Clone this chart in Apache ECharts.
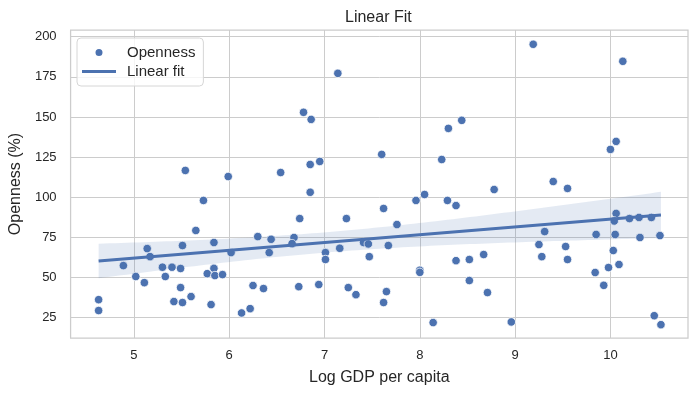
<!DOCTYPE html>
<html>
<head>
<meta charset="utf-8">
<script src="https://cdn.jsdelivr.net/npm/echarts@6/dist/echarts.min.js"></script>
<style>
html, body { margin: 0; padding: 0; background: #fff; }
#chart { width: 699px; height: 396px; }
</style>
</head>
<body>
<div id="chart"></div>
<script>
// 散点数据
const logGdp = [
    5.54, 5.99, 6.54, 5.73, 5.65, 5.14, 5.17, 5.51, 5.84, 6.02,
    6.30, 6.44, 6.42, 4.89, 5.30, 5.40, 5.49, 5.84, 5.02, 5.33,
    5.77, 5.85, 5.93, 5.11, 5.49, 6.25, 6.36, 4.63, 4.63, 5.42,
    5.51, 5.60, 5.81, 6.13, 6.22, 7.62, 8.14, 8.96, 10.46, 10.53,
    7.14, 6.78, 6.86, 8.30, 8.44, 7.60, 8.23, 6.85, 6.95, 6.85,
    6.74, 7.23, 7.62, 7.96, 8.05, 8.29, 8.38, 7.76, 6.68, 6.66,
    7.01, 7.01, 7.16, 7.41, 7.46, 7.67, 7.47, 8.00, 8.00, 8.38,
    8.52, 8.52, 6.73, 6.94, 7.25, 7.33, 7.65, 9.19, 10.13, 10.06,
    10.00, 9.40, 9.55, 8.78, 10.06, 10.04, 10.20, 10.30, 10.43, 9.31,
    9.85, 10.05, 10.31, 10.52, 9.25, 9.53, 10.03, 8.67, 9.28, 9.55,
    10.09, 9.98, 9.84, 9.93, 8.71
];
const openness = [
    116.7, 112.9, 115.4, 98.0, 79.3, 68.0, 63.0, 69.9, 71.8, 65.5,
    75.5, 73.8, 65.5, 57.4, 56.4, 56.4, 55.6, 55.7, 50.6, 50.6,
    52.4, 51.2, 51.8, 46.8, 43.7, 45.0, 43.1, 36.2, 29.4, 35.0,
    34.4, 38.1, 33.1, 27.9, 30.6, 34.4, 21.9, 22.3, 26.2, 20.6,
    177.2, 152.9, 148.5, 142.9, 147.9, 126.7, 123.5, 120.4, 122.3, 103.1,
    86.7, 86.7, 93.0, 98.0, 101.7, 98.0, 94.8, 83.0, 74.9, 71.1,
    65.5, 61.2, 68.2, 71.8, 70.9, 69.9, 63.0, 54.5, 53.2, 60.5,
    61.2, 48.1, 44.3, 45.6, 43.7, 39.3, 41.2, 195.3, 184.7, 134.8,
    129.8, 109.8, 105.5, 104.8, 89.9, 85.2, 86.7, 87.4, 87.4, 78.6,
    76.8, 76.8, 74.9, 76.1, 70.5, 69.3, 66.8, 64.3, 63.0, 61.2,
    58.1, 56.2, 53.1, 45.1, 40.6
];
const xTicks = [5, 6, 7, 8, 9, 10];
const yTicks = [25, 50, 75, 100, 125, 150, 175, 200];

const FONT = "'Liberation Sans', Arial, sans-serif";
const BLUE = '#4c72b0';
const TEXT = '#262626';

// 最小二乘拟合, 置信带用稳健(三明治)方差, 近似 seaborn 的自助法区间
function linearFit(xs, ys) {
    const n = xs.length;
    const mx = xs.reduce((s, v) => s + v, 0) / n;
    const my = ys.reduce((s, v) => s + v, 0) / n;
    let suu = 0, suy = 0;
    for (let i = 0; i < n; i++) {
        suu += (xs[i] - mx) * (xs[i] - mx);
        suy += (xs[i] - mx) * (ys[i] - my);
    }
    const b = suy / suu;
    const a = my - b * mx;
    let e2 = 0, e2u = 0, e2uu = 0;
    for (let i = 0; i < n; i++) {
        const u = xs[i] - mx;
        const r = ys[i] - (a + b * xs[i]);
        e2 += r * r;
        e2u += r * r * u;
        e2uu += r * r * u * u;
    }
    return {
        a, b, mx,
        varA: e2 / (n * n),
        cov: e2u / (n * suu),
        varB: e2uu / (suu * suu)
    };
}

const fit = linearFit(logGdp, openness);
const xLo = Math.min(...logGdp);
const xHi = Math.max(...logGdp);
const zCrit = 1.96;
const band = [];
const steps = 100;
for (let i = 0; i <= steps; i++) {
    const x = xLo + (xHi - xLo) * i / steps;
    const u = x - fit.mx;
    const yh = fit.a + fit.b * x;
    const se = Math.sqrt(fit.varA + 2 * u * fit.cov + u * u * fit.varB);
    band.push([x, yh - zCrit * se, yh + zCrit * se]);
}
const fitLine = [[xLo, fit.a + fit.b * xLo], [xHi, fit.a + fit.b * xHi]];

const chart = echarts.init(document.getElementById('chart'));
const option = {
    animation: false,
    textStyle: { fontFamily: FONT, color: TEXT },
    title: {
        text: 'Linear Fit',
        left: 340,
        top: 5,
        textStyle: { fontFamily: FONT, fontSize: 16, fontWeight: 'normal', color: TEXT }
    },
    legend: {
        left: 77,
        top: 38,
        orient: 'vertical',
        data: [
            { name: 'Openness', icon: 'circle' },
            { name: 'Linear fit', icon: 'path://M0,0 L34,0 L34,3 L0,3 Z' }
        ],
        symbolKeepAspect: true,
        itemWidth: 34,
        itemHeight: 9,
        itemGap: 4,
        padding: [7, 8, 7, 5],
        backgroundColor: 'rgba(255,255,255,0.8)',
        borderColor: '#d6d6d6',
        borderWidth: 1,
        borderRadius: 4,
        textStyle: { fontFamily: FONT, fontSize: 15, color: TEXT, padding: [0, 0, 0, 6] }
    },
    grid: {
        left: 70, right: 11, top: 30, bottom: 58,
        show: true, borderColor: '#cccccc', borderWidth: 1.25
    },
    xAxis: {
        type: 'value',
        min: 4.336,
        max: 10.814,
        name: 'Log GDP per capita',
        nameLocation: 'middle',
        nameGap: 32,
        nameTextStyle: { fontFamily: FONT, fontSize: 16, color: TEXT },
        axisLine: { show: false },
        axisTick: { show: false, customValues: xTicks },
        axisLabel: { customValues: xTicks, margin: 11, fontSize: 13, color: TEXT, fontFamily: FONT },
        splitLine: { show: true, lineStyle: { color: '#cccccc', width: 1 } }
    },
    yAxis: {
        type: 'value',
        min: 12.3,
        max: 204.2,
        name: 'Openness (%)',
        nameLocation: 'middle',
        nameGap: 46,
        nameTextStyle: { fontFamily: FONT, fontSize: 16, color: TEXT },
        axisLine: { show: false },
        axisTick: { show: false, customValues: yTicks },
        axisLabel: { customValues: yTicks, margin: 14, fontSize: 13, color: TEXT, fontFamily: FONT },
        splitLine: { show: true, lineStyle: { color: '#cccccc', width: 1 } }
    },
    series: [
        {
            name: 'Openness',
            type: 'scatter',
            data: logGdp.map((x, i) => [x, openness[i]]),
            symbolSize: 8.5,
            itemStyle: { color: BLUE, borderColor: '#ffffff', borderWidth: 0.8, opacity: 1 },
            z: 2
        },
        {
            name: 'ci',
            type: 'custom',
            data: band,
            encode: { x: 0, y: [1, 2] },
            silent: true,
            z: 3,
            renderItem(params, api) {
                if (params.dataIndex !== 0) return;
                const upper = band.map(d => api.coord([d[0], d[2]]));
                const lower = band.map(d => api.coord([d[0], d[1]])).reverse();
                return {
                    type: 'polygon',
                    shape: { points: upper.concat(lower) },
                    style: { fill: 'rgba(76,114,176,0.15)' }
                };
            }
        },
        {
            name: 'Linear fit',
            type: 'line',
            data: fitLine,
            symbol: 'none',
            lineStyle: { color: BLUE, width: 3 },
            itemStyle: { color: BLUE },
            z: 4
        }
    ]
};
chart.setOption(option);
</script>
</body>
</html>
